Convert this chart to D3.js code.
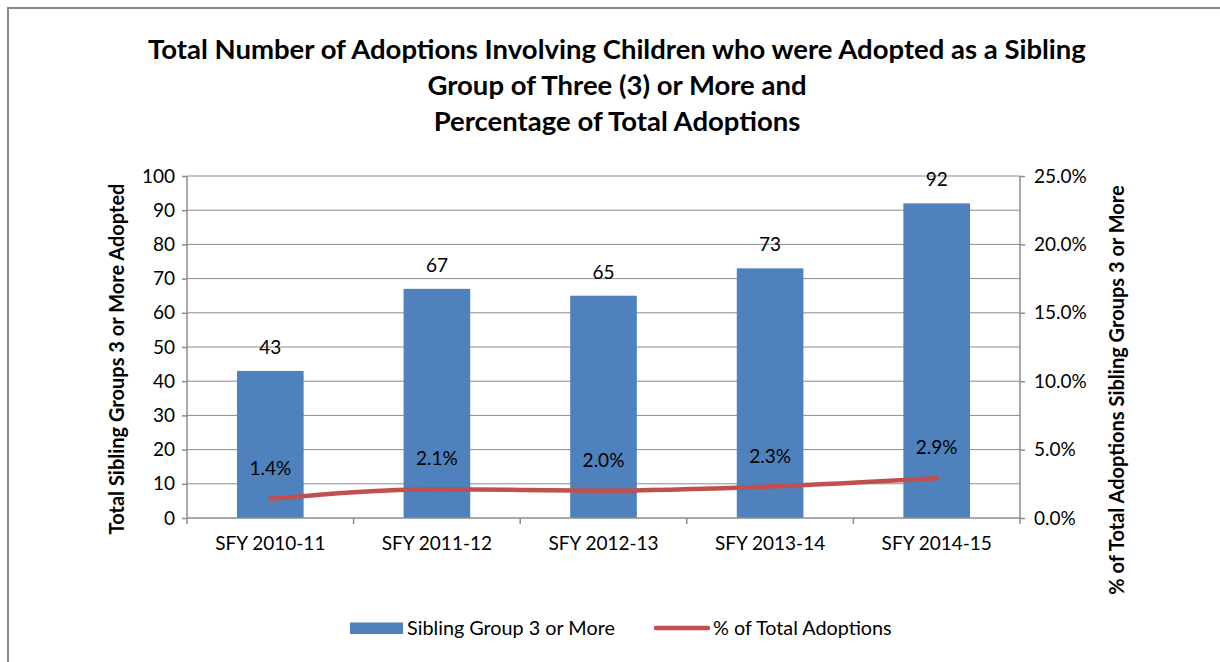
<!DOCTYPE html>
<html>
<head>
<meta charset="utf-8">
<script src="https://cdn.jsdelivr.net/npm/d3@7"></script>
<style>
  body { margin: 0; background: #fff; }
  text { font-family: Lato, "Open Sans", sans-serif; fill: #000; }
</style>
</head>
<body>
<svg width="1220" height="662"></svg>
<script>
// chart data
var years = ["SFY 2010-11", "SFY 2011-12", "SFY 2012-13", "SFY 2013-14", "SFY 2014-15"];
var siblingGroups = [43, 67, 65, 73, 92];
var pctTotal = [1.4, 2.1, 2.0, 2.3, 2.9];
var leftTicks = [0, 10, 20, 30, 40, 50, 60, 70, 80, 90, 100];
var rightTicks = [0, 5, 10, 15, 20, 25];
var titleLines = ["Total Number of Adoptions Involving Children who were Adopted as a Sibling",
                  "Group of Three (3) or More and",
                  "Percentage of Total Adoptions"];

var svg = d3.select("svg");

// outer frame
svg.append("rect")
  .attr("x", 8).attr("y", 8).attr("width", 1230).attr("height", 680)
  .attr("fill", "none").attr("stroke", "#878787").attr("stroke-width", 2);

var pLeft = 187, pRight = 1020, pTop = 176, pBottom = 518;

var x = d3.scaleBand().domain(years).range([pLeft, pRight]);
var y = d3.scaleLinear().domain([0, 100]).range([pBottom, pTop]);
var y2 = d3.scaleLinear().domain([0, 25]).range([pBottom, pTop]);

// title
svg.append("g").selectAll("text")
  .data(titleLines)
  .enter().append("text")
    .attr("x", 617)
    .attr("y", (d, i) => 59 + i * 36)
    .attr("text-anchor", "middle")
    .attr("font-size", 27.5)
    .attr("font-weight", "bold")
    .text(d => d);

// gridlines
svg.append("g").selectAll("line")
  .data(leftTicks.slice(1))
  .enter().append("line")
    .attr("x1", pLeft).attr("x2", pRight)
    .attr("y1", d => y(d)).attr("y2", d => y(d))
    .attr("stroke", "#8c8c8c").attr("stroke-width", 1);

// bars
svg.append("g").selectAll("rect")
  .data(siblingGroups)
  .enter().append("rect")
    .attr("x", (d, i) => x(years[i]) + x.bandwidth() * 0.3)
    .attr("width", x.bandwidth() * 0.4)
    .attr("y", d => y(d))
    .attr("height", d => pBottom - y(d))
    .attr("fill", "#4f81bd");

// axes
var axisL = svg.append("g")
  .attr("transform", "translate(" + pLeft + ",0)")
  .call(d3.axisLeft(y).tickValues(leftTicks).tickSize(5).tickPadding(7));
var axisR = svg.append("g")
  .attr("transform", "translate(" + pRight + ",0)")
  .call(d3.axisRight(y2).tickValues(rightTicks).tickSize(5).tickPadding(9)
    .tickFormat(d => d.toFixed(1) + "%"));
var axisB = svg.append("g")
  .attr("transform", "translate(0," + pBottom + ")")
  .call(d3.axisBottom(x).tickSize(0).tickPadding(19));

[axisL, axisR, axisB].forEach(function(a) {
  a.select(".domain").attr("stroke", "#8c8c8c").attr("stroke-width", 1.5);
  a.selectAll(".tick line").attr("stroke", "#8c8c8c").attr("stroke-width", 1.5);
  a.selectAll("text").attr("font-size", 19).attr("font-family", "Lato, sans-serif").attr("fill", "#000");
});
axisL.select(".domain").attr("d", "M0," + pTop + "V" + pBottom);
axisR.select(".domain").attr("d", "M0," + pTop + "V" + pBottom);
axisB.select(".domain").attr("d", "M" + pLeft + ",0H" + pRight);

// category boundary ticks
axisB.append("g").selectAll("line")
  .data(d3.range(years.length + 1))
  .enter().append("line")
    .attr("x1", i => pLeft + i * x.bandwidth())
    .attr("x2", i => pLeft + i * x.bandwidth())
    .attr("y1", 0).attr("y2", 6)
    .attr("stroke", "#8c8c8c").attr("stroke-width", 1.5);

// pct line
var line = d3.line()
  .x((d, i) => x(years[i]) + x.bandwidth() / 2)
  .y(d => y2(d))
  .curve(d3.curveMonotoneX);
svg.append("path")
  .datum(pctTotal)
  .attr("d", line)
  .attr("fill", "none")
  .attr("stroke", "#c0504d")
  .attr("stroke-width", 4.5)
  .attr("stroke-linecap", "round");

// bar labels
svg.append("g").selectAll("text")
  .data(siblingGroups)
  .enter().append("text")
    .attr("x", (d, i) => x(years[i]) + x.bandwidth() / 2)
    .attr("y", d => y(d) - 17)
    .attr("text-anchor", "middle")
    .attr("font-size", 19)
    .text(d => d);

// pct labels
svg.append("g").selectAll("text")
  .data(pctTotal)
  .enter().append("text")
    .attr("x", (d, i) => x(years[i]) + x.bandwidth() / 2)
    .attr("y", d => y2(d) - 24)
    .attr("text-anchor", "middle")
    .attr("font-size", 19)
    .text(d => d.toFixed(1) + "%");

// axis titles
svg.append("text")
  .attr("transform", "translate(124,359) rotate(-90)")
  .attr("text-anchor", "middle")
  .attr("font-size", 20)
  .attr("font-weight", "bold")
  .text("Total Sibling Groups 3 or More Adopted");
svg.append("text")
  .attr("transform", "translate(1124,390) rotate(-90)")
  .attr("text-anchor", "middle")
  .attr("font-size", 20)
  .attr("font-weight", "bold")
  .text("% of Total Adoptions Sibling Groups 3 or More");

// legend
var lg = svg.append("g");
lg.append("rect").attr("x", 350).attr("y", 622.5).attr("width", 53).attr("height", 11.5).attr("fill", "#4f81bd");
lg.append("text").attr("x", 407).attr("y", 635).attr("font-size", 19.8).text("Sibling Group 3 or More");
lg.append("line").attr("x1", 656).attr("x2", 708).attr("y1", 628).attr("y2", 628)
  .attr("stroke", "#c0504d").attr("stroke-width", 4.5).attr("stroke-linecap", "round");
lg.append("text").attr("x", 713).attr("y", 635).attr("font-size", 19.8).text("% of Total Adoptions");
</script>
</body>
</html>
